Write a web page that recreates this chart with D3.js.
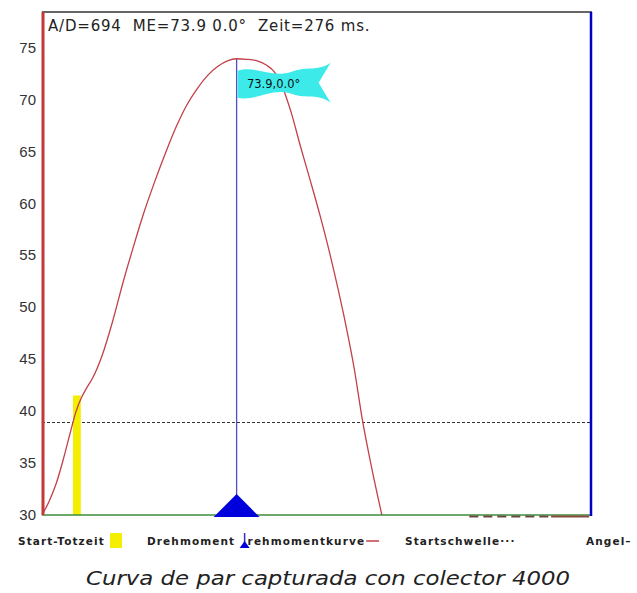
<!DOCTYPE html>
<html>
<head>
<meta charset="utf-8" />
<title></title>
<script src="https://cdn.jsdelivr.net/npm/d3@7/dist/d3.min.js"></script>
<style>
  body { margin: 0; background: #fff; }
  .axis text { font-family: "Liberation Sans", sans-serif; font-size: 15px; fill: #333; }
  .legend text { font-family: "DejaVu Sans", sans-serif; font-size: 10.5px; fill: #222; font-weight: bold; letter-spacing: 1.1px; }
</style>
</head>
<body>
<script>
// 画布
var width = 637, height = 593;
var plot = {left: 42, right: 592, top: 12, bottom: 515};

// 扭矩曲线 (ms / Nm)
var timeMs = [0, 10, 20, 30, 40, 48, 56, 64, 72, 85, 100, 115, 130, 145, 160, 175, 190, 205, 220, 235, 250, 263, 276,
              290, 305, 318, 330, 342, 354, 366, 380, 394, 408, 420, 432, 443, 454, 468, 482];
var torque = [30.0, 31.3, 33.0, 35.3, 37.9, 39.9, 41.3, 42.3, 43.2, 45.3, 48.6, 52.4, 55.9, 59.2, 62.1, 64.8, 67.3, 69.4, 71.0, 72.3, 73.2, 73.7, 73.9,
              73.85, 73.7, 73.3, 72.6, 71.0, 68.6, 65.6, 62.3, 58.9, 55.2, 51.7, 47.9, 44.0, 39.3, 34.4, 30.0];
var yTicks = [30, 35, 40, 45, 50, 55, 60, 65, 70, 75];
var startThreshold = 38.9;
var peakTime = 276, peakValue = 73.9, peakAngle = 0.0;
var deadTime = [44, 55];        // Start-Totzeit
var deadTimeTop = 41.5;
var angleDashed = [606, 722];
var angleSolid = [722, 776];

var svg = d3.select("body").append("svg")
    .attr("width", width)
    .attr("height", height);

var x = d3.scaleLinear().domain([0, 780]).range([plot.left, plot.right]);
var y = d3.scaleLinear().domain([30, 78.4]).range([plot.bottom, plot.top]);

// 标题文字
svg.append("text")
    .attr("x", 48).attr("y", 31)
    .style("font-family", "DejaVu Sans, sans-serif")
    .style("font-size", "15px")
    .style("letter-spacing", "0.8px")
    .attr("fill", "#222")
    .attr("xml:space", "preserve")
    .text("A/D=694  ME=" + peakValue.toFixed(1) + " " + peakAngle.toFixed(1) + "°  Zeit=" + peakTime + " ms.");

// 边框
svg.append("line").attr("x1", plot.left).attr("x2", plot.right).attr("y1", plot.top).attr("y2", plot.top)
    .attr("stroke", "#333").attr("stroke-width", 1.5);

// 启动阈值
svg.append("line")
    .attr("x1", plot.left).attr("x2", plot.right)
    .attr("y1", y(startThreshold)).attr("y2", y(startThreshold))
    .attr("stroke", "#333").attr("stroke-dasharray", "3,2");

// 死区
svg.append("rect")
    .attr("x", x(deadTime[0])).attr("width", x(deadTime[1]) - x(deadTime[0]))
    .attr("y", y(deadTimeTop)).attr("height", y(30) - y(deadTimeTop))
    .attr("fill", "#f4ee00");

// 峰值竖线
svg.append("line")
    .attr("x1", x(peakTime)).attr("x2", x(peakTime))
    .attr("y1", y(peakValue)).attr("y2", plot.bottom)
    .attr("stroke", "#5050c0").attr("stroke-width", 1.3);

// 扭矩曲线
var line = d3.line()
    .x(function(d, i) { return x(timeMs[i]); })
    .y(function(d) { return y(d); })
    .curve(d3.curveMonotoneX);
svg.append("path")
    .attr("d", line(torque))
    .attr("fill", "none")
    .attr("stroke", "#c2404a")
    .attr("stroke-width", 1.3);

// 底线
svg.append("line").attr("x1", plot.left).attr("x2", plot.right).attr("y1", plot.bottom).attr("y2", plot.bottom)
    .attr("stroke", "#3c8c3c").attr("stroke-width", 1.5);

// Angel
svg.append("line").attr("x1", x(angleDashed[0])).attr("x2", x(angleDashed[1]))
    .attr("y1", plot.bottom + 1.5).attr("y2", plot.bottom + 1.5)
    .attr("stroke", "#6a4a3c").attr("stroke-width", 2).attr("stroke-dasharray", "9,5");
svg.append("line").attr("x1", x(angleSolid[0])).attr("x2", x(angleSolid[1]))
    .attr("y1", plot.bottom + 1.5).attr("y2", plot.bottom + 1.5)
    .attr("stroke", "#8a4a3a").attr("stroke-width", 2);

// 左右边框
svg.append("line").attr("x1", plot.left + 1).attr("x2", plot.left + 1).attr("y1", plot.top).attr("y2", plot.bottom)
    .attr("stroke", "#c43838").attr("stroke-width", 3);
svg.append("line").attr("x1", plot.right - 1).attr("x2", plot.right - 1).attr("y1", plot.top).attr("y2", plot.bottom + 1)
    .attr("stroke", "#0000c8").attr("stroke-width", 2.5);

// 三角标记
var px = x(peakTime);
svg.append("path")
    .attr("d", "M" + (px - 23) + "," + (plot.bottom + 2) + "L" + px + "," + (plot.bottom - 21) + "L" + (px + 23) + "," + (plot.bottom + 2) + "Z")
    .attr("fill", "#0000dd");

// 峰值旗帜
var fx = px + 1, fy = y(peakValue) + 9;
svg.append("path")
    .attr("transform", "translate(" + fx + "," + fy + ")")
    .attr("d", "M0,3 C18,-3 34,11 54,4 C70,-2 80,4 93,-5 L81,15 L93,35 C80,25 70,32 54,26 C34,19 18,34 0,30 Z")
    .attr("fill", "#3ceaea");
svg.append("text")
    .attr("x", fx + 36).attr("y", fy + 20)
    .attr("text-anchor", "middle")
    .style("font-family", "DejaVu Sans, sans-serif")
    .style("font-size", "11.5px")
    .attr("fill", "#111")
    .text(peakValue.toFixed(1) + "," + peakAngle.toFixed(1) + "°");

// y 轴
var yAxis = d3.axisLeft(y).tickValues(yTicks).tickSize(0).tickPadding(6);
var ga = svg.append("g").attr("class", "axis")
    .attr("transform", "translate(" + plot.left + ",0)")
    .call(yAxis);
ga.select(".domain").remove();

// 图例
var lg = svg.append("g").attr("class", "legend");
lg.append("text").attr("x", 18).attr("y", 545).text("Start-Totzeit");
lg.append("rect").attr("x", 110).attr("y", 533).attr("width", 12).attr("height", 15).attr("fill", "#f4ee00");
lg.append("text").attr("x", 147).attr("y", 545).text("Drehmoment");
var kurve = lg.append("text").attr("x", px + 11).attr("y", 545).text("rehmomentkurve");
lg.append("line").attr("x1", px + 8).attr("x2", px + 8).attr("y1", 533).attr("y2", 545).attr("stroke", "#3030c0").attr("stroke-width", 1.5);
lg.append("path").attr("d", "M" + (px + 3) + ",548L" + (px + 8) + ",541L" + (px + 13) + ",548Z").attr("fill", "#0000dd");
var kEnd = px + 11 + kurve.node().getComputedTextLength();
lg.append("line").attr("x1", kEnd + 1).attr("x2", kEnd + 14).attr("y1", 541).attr("y2", 541).attr("stroke", "#c2404a").attr("stroke-width", 1.5);
lg.append("text").attr("x", 405).attr("y", 545).text("Startschwelle···");
lg.append("text").attr("x", 586).attr("y", 545).text("Angel–");

// 说明
svg.append("text")
    .attr("x", 86).attr("y", 585)
    .attr("textLength", 484).attr("lengthAdjust", "spacingAndGlyphs")
    .style("font-family", "DejaVu Sans, sans-serif")
    .style("font-style", "italic")
    .style("font-size", "20px")
    .attr("fill", "#222")
    .text("Curva de par capturada con colector 4000");
</script>
</body>
</html>
